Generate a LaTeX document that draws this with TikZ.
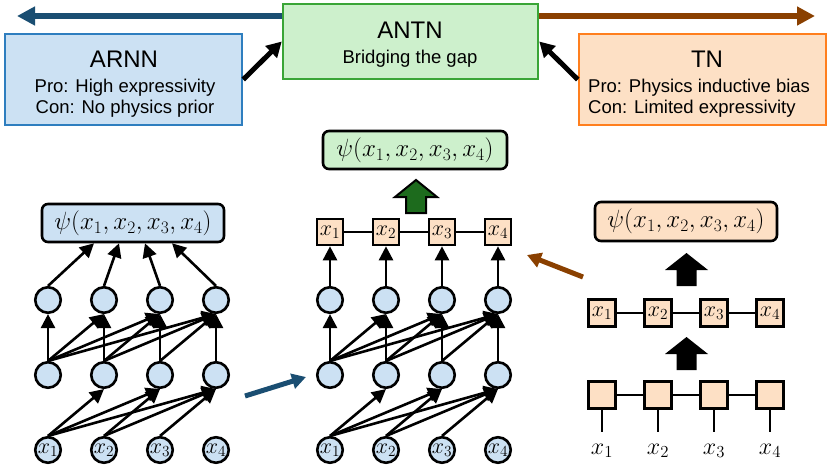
\RequirePackage{fix-cm}
\documentclass[tikz,border=0pt]{standalone}
\usepackage{fontspec}
\setmainfont{Liberation Sans}
\usetikzlibrary{arrows.meta,calc}
\definecolor{arnnfill}{HTML}{CCE1F3}
\definecolor{arnnedge}{HTML}{2E7EBF}
\definecolor{antnfill}{HTML}{CDF0CC}
\definecolor{antnedge}{HTML}{3AA537}
\definecolor{tnfill}{HTML}{FDE0C5}
\definecolor{tnedge}{HTML}{FF7F1E}
\definecolor{bluearr}{HTML}{1A4E72}
\definecolor{brownarr}{HTML}{8A4000}
\definecolor{darkgreen}{HTML}{1D6B1D}
\begin{document}
\begin{tikzpicture}[x=1pt,y=-1pt,
  bigbox/.style={rectangle, draw, line width=2.5pt, inner sep=0pt},
  titletext/.style={anchor=base, inner sep=0pt, font=\fontsize{24}{24}\selectfont},
  bodytext/.style={anchor=base, inner sep=0pt, font=\fontsize{18.5}{22}\selectfont},
  neuron/.style={circle, draw, line width=2.6pt, fill=arnnfill, minimum size=25.5pt, inner sep=0pt, font=\fontsize{22}{22}\selectfont},
  tensor/.style={rectangle, draw, line width=2.6pt, fill=tnfill, minimum size=26pt, inner sep=0pt, font=\fontsize{22}{22}\selectfont},
  psibox/.style={rectangle, rounded corners=6pt, draw, line width=2.6pt, minimum width=182pt, minimum height=38pt, inner sep=0pt, font=\fontsize{25}{25}\selectfont},
  wire/.style={line width=2.6pt},
  nnarrow/.style={line width=2.6pt, -{Triangle[length=14pt,width=14pt]}},
  thickarrow/.style={line width=5pt, -{Triangle[length=15pt,width=16pt]}},
  blockarrow/.style={draw=black, line width=2pt, line join=miter}
]
\useasboundingbox (0,0) rectangle (830,469);

% ---- top boxes ----
\node[bigbox, draw=arnnedge, fill=arnnfill, minimum width=237pt, minimum height=91pt] (arnn) at (123.5,79.5) {};
\node[bigbox, draw=antnedge, fill=antnfill, minimum width=255pt, minimum height=75pt] (antn) at (410.5,41.5) {};
\node[bigbox, draw=tnedge, fill=tnfill, minimum width=247pt, minimum height=91pt] (tn) at (702.5,79.5) {};

\node[titletext] (arnnT) at (124,67) {ARNN};
\node[bodytext] (arnnP) at (125,92) {Pro: High expressivity};
\node[bodytext] (arnnC) at (125,113) {Con: No physics prior};

\node[titletext] (antnT) at (410,38) {ANTN};
\node[bodytext] (antnS) at (410,63) {Bridging the gap};

\node[titletext] (tnT) at (707,67) {TN};
\node[bodytext, anchor=base west] (tnP) at (588,92) {Pro: Physics inductive bias};
\node[bodytext, anchor=base west] (tnC) at (588,113) {Con: Limited expressivity};

\coordinate (bluetip) at (17,16);
\coordinate (browntip) at (815,16);
\draw[bluearr, line width=6pt, -{Triangle[length=18pt,width=18pt]}] (antn.west |- bluetip) -- (bluetip);
\draw[brownarr, line width=6pt, -{Triangle[length=18pt,width=18pt]}] (antn.east |- browntip) -- (browntip);

\draw[thickarrow] (arnn.east) -- (antn.west);
\draw[thickarrow] (tn.west) -- (antn.east);

% ---- left network (ARNN) ----
\node[psibox, fill=arnnfill] (psiL) at (133,223) {$\psi(x_1,x_2,x_3,x_4)$};
\foreach \i/\x in {1/48,2/104,3/160,4/216} {
  \node[neuron] (Lt\i) at (\x,300) {};
  \node[neuron] (Lm\i) at (\x,375) {};
  \node[neuron] (Li\i) at (\x,450) {$x_{\i}$};
}
\foreach \i/\dx in {1/-39,2/-14,3/12,4/39}
  \draw[nnarrow] (Lt\i.north) -- ($(psiL.south)+(\dx,0)$);
\foreach \i in {1,...,4} {
  \foreach \j in {\i,...,4}
    \draw[nnarrow] (Lm\i.north) -- (Lt\j.south);
}
\foreach \i in {1,2,3} {
  \pgfmathtruncatemacro{\k}{\i+1}
  \foreach \j in {\k,...,4}
    \draw[nnarrow] (Li\i.north) -- (Lm\j.south);
}

% ---- middle network (ANTN) ----
\node[psibox, fill=antnfill, minimum width=184pt] (psiM) at (415,150) {$\psi(x_1,x_2,x_3,x_4)$};
\draw[blockarrow, fill=darkgreen] (416,180) -- (437,197) -- (426,197) -- (426,213) -- (406,213) -- (406,197) -- (395,197) -- cycle;
\foreach \i/\x in {1/330,2/386,3/442,4/498} {
  \node[neuron] (Mt\i) at (\x,300) {};
  \node[neuron] (Mm\i) at (\x,375) {};
  \node[neuron] (Mi\i) at (\x,450) {$x_{\i}$};
}
\draw[wire] (330,232) -- (498,232);
\foreach \i/\x in {1/330,2/386,3/442,4/498}
  \node[tensor] (Ms\i) at (\x,232) {$x_{\i}$};
\foreach \i in {1,...,4}
  \draw[nnarrow] (Mt\i.north) -- (Ms\i.south);
\foreach \i in {1,...,4} {
  \foreach \j in {\i,...,4}
    \draw[nnarrow] (Mm\i.north) -- (Mt\j.south);
}
\foreach \i in {1,2,3} {
  \pgfmathtruncatemacro{\k}{\i+1}
  \foreach \j in {\k,...,4}
    \draw[nnarrow] (Mi\i.north) -- (Mm\j.south);
}

% ---- right network (TN) ----
\node[psibox, fill=tnfill, minimum height=39pt] (psiR) at (686,221.5) {$\psi(x_1,x_2,x_3,x_4)$};
\fill[black] (686.5,253) -- (708,270) -- (696.5,270) -- (696.5,286) -- (676.5,286) -- (676.5,270) -- (665,270) -- cycle;
\fill[black] (686.5,337) -- (708,354) -- (696.5,354) -- (696.5,370) -- (676.5,370) -- (676.5,354) -- (665,354) -- cycle;
\draw[wire] (602,313) -- (770,313);
\draw[wire] (602,395) -- (770,395);
\foreach \i/\x in {1/602,2/658,3/714,4/770} {
  \coordinate (Rl\i) at (\x,432);
  \draw[wire] (\x,395) -- (Rl\i);
  \node[tensor, minimum size=27pt] (Rs\i) at (\x,313) {$x_{\i}$};
  \node[tensor, minimum size=27pt] (Rb\i) at (\x,395) {};
  \node[font=\fontsize{24}{24}\selectfont, inner sep=0pt] (Rx\i) at (\x,451) {$x_{\i}$};
}

% ---- connecting arrows ----
\coordinate (bs) at (245,396);
\coordinate (bt) at (306,377);
\draw[bluearr, line width=5pt, -{Triangle[length=14pt,width=15pt]}] (bs) -- (bt);
\coordinate (rs) at (583,277);
\coordinate (rt) at (527,255);
\draw[brownarr, line width=5pt, -{Triangle[length=14pt,width=15pt]}] (rs) -- (rt);
\end{tikzpicture}
\end{document}
